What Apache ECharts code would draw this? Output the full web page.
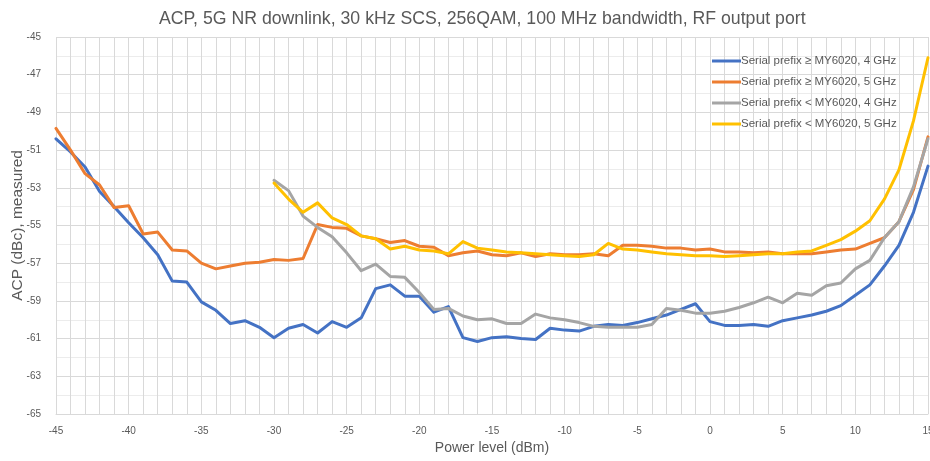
<!DOCTYPE html>
<html>
<head>
<meta charset="utf-8">
<script src="https://cdn.jsdelivr.net/npm/echarts@6/dist/echarts.min.js"></script>
<style>
html,body{margin:0;padding:0;background:#fff;}
#chart{width:930px;height:461px;}
</style>
</head>
<body>
<div id="chart"></div>
<script>
const titleText = 'ACP, 5G NR downlink, 30 kHz SCS, 256QAM, 100 MHz bandwidth, RF output port';
const seriesNames = [
  'Serial prefix \u2265 MY6020, 4 GHz',
  'Serial prefix \u2265 MY6020, 5 GHz',
  'Serial prefix < MY6020, 4 GHz',
  'Serial prefix < MY6020, 5 GHz'
];
// power levels -45..15 dBm
const powerFull = [];
for (let p = -45; p <= 15; p++) powerFull.push(p);
const powerLate = powerFull.filter(p => p >= -30);

const blue4 = [-50.4,-51.1,-51.9,-53.2,-54.0,-54.85,-55.65,-56.55,-57.95,-58.0,
  -59.05,-59.5,-60.2,-60.05,-60.4,-60.95,-60.45,-60.25,-60.7,-60.1,
  -60.4,-59.9,-58.35,-58.15,-58.75,-58.75,-59.6,-59.3,-60.95,-61.15,
  -60.95,-60.9,-61.0,-61.05,-60.45,-60.55,-60.6,-60.35,-60.25,-60.3,
  -60.15,-59.95,-59.75,-59.45,-59.15,-60.1,-60.3,-60.3,-60.25,-60.35,
  -60.05,-59.9,-59.75,-59.55,-59.25,-58.7,-58.15,-57.15,-56.05,-54.3,-51.85];
const orange5 = [-49.85,-51.0,-52.25,-52.85,-54.05,-53.95,-55.45,-55.35,-56.3,-56.35,
  -57.0,-57.3,-57.15,-57.0,-56.95,-56.8,-56.85,-56.75,-54.95,-55.1,
  -55.15,-55.55,-55.7,-55.9,-55.8,-56.1,-56.15,-56.6,-56.45,-56.35,
  -56.55,-56.6,-56.45,-56.65,-56.5,-56.55,-56.55,-56.5,-56.6,-56.05,
  -56.05,-56.1,-56.2,-56.2,-56.3,-56.25,-56.4,-56.4,-56.45,-56.4,
  -56.5,-56.5,-56.5,-56.4,-56.3,-56.25,-55.95,-55.65,-54.8,-53.1,-50.3];
const gray4 = [-52.6,-53.15,-54.5,-55.1,-55.6,-56.45,-57.4,-57.05,-57.7,-57.75,
  -58.55,-59.45,-59.4,-59.8,-60.0,-59.95,-60.2,-60.2,-59.7,-59.9,
  -60.0,-60.15,-60.35,-60.4,-60.4,-60.4,-60.25,-59.4,-59.5,-59.65,
  -59.65,-59.55,-59.35,-59.1,-58.8,-59.1,-58.6,-58.7,-58.2,-58.05,
  -57.3,-56.85,-55.65,-54.8,-52.95,-50.4];
const yellow5 = [-52.75,-53.6,-54.3,-53.8,-54.6,-54.95,-55.55,-55.7,-56.25,-56.1,
  -56.3,-56.35,-56.5,-55.85,-56.2,-56.3,-56.4,-56.45,-56.5,-56.55,
  -56.6,-56.65,-56.55,-55.95,-56.25,-56.3,-56.4,-56.5,-56.55,-56.6,
  -56.6,-56.65,-56.6,-56.55,-56.5,-56.5,-56.4,-56.35,-56.05,-55.75,
  -55.3,-54.75,-53.6,-52.05,-49.45,-46.1];

const colors = ['#4472C4','#ED7D31','#A5A5A5','#FFC000'];
const xs = [powerFull, powerFull, powerLate, powerLate];
const ys = [blue4, orange5, gray4, yellow5];

const FONT = 'Liberation Sans, Arial, sans-serif';
const chart = echarts.init(document.getElementById('chart'), null, {renderer:'canvas'});
chart.setOption({
  animation: false,
  backgroundColor: '#ffffff',
  title: {
    text: titleText, left: 154, top: 5,
    textStyle: {fontFamily: FONT, fontSize: 17.7, fontWeight: 'normal', color: '#595959'}
  },
  legend: {
    orient: 'vertical', left: 707, top: 50,
    itemWidth: 29, itemHeight: 3, itemGap: 9, icon: 'rect',
    textStyle: {fontFamily: FONT, fontSize: 11.5, color: '#595959', padding: [0,0,0,-5]},
    data: seriesNames
  },
  grid: {left: 56, right: 2, top: 37, bottom: 47, containLabel: false, outerBoundsMode: 'none'},
  xAxis: {
    type: 'value', min: -45, max: 15, interval: 5,
    name: 'Power level (dBm)', nameLocation: 'middle', nameGap: 27, nameMoveOverlap: false,
    nameTextStyle: {fontFamily: FONT, fontSize: 14, color: '#595959'},
    axisLine: {show: true, lineStyle: {color: '#d9d9d9', width: 1}},
    axisTick: {show: false},
    axisLabel: {fontFamily: FONT, fontSize: 10, color: '#595959', margin: 12},
    splitLine: {show: true, lineStyle: {color: '#d9d9d9', width: 1}},
    minorTick: {show: false, splitNumber: 5},
    minorSplitLine: {show: true, lineStyle: {color: '#d9d9d9', width: 1}}
  },
  yAxis: {
    type: 'value', min: -65, max: -45, interval: 2,
    name: 'ACP (dBc), measured', nameLocation: 'middle', nameGap: 30, nameMoveOverlap: false,
    nameTextStyle: {fontFamily: FONT, fontSize: 15.5, color: '#595959'},
    axisLine: {show: false}, axisTick: {show: false},
    axisLabel: {fontFamily: FONT, fontSize: 10, color: '#595959', margin: 15},
    splitLine: {show: true, lineStyle: {color: '#d9d9d9', width: 1}},
    minorTick: {show: false, splitNumber: 2},
    minorSplitLine: {show: true, lineStyle: {color: '#ececec', width: 1}}
  },
  series: seriesNames.map((n, i) => ({
    name: n, type: 'line', symbol: 'none', smooth: false,
    color: colors[i],
    lineStyle: {color: colors[i], width: 3, join: 'round', cap: 'round'},
    data: xs[i].map((x, k) => [x, ys[i][k]]),
    z: 2 + i
  }))
});
</script>
</body>
</html>
